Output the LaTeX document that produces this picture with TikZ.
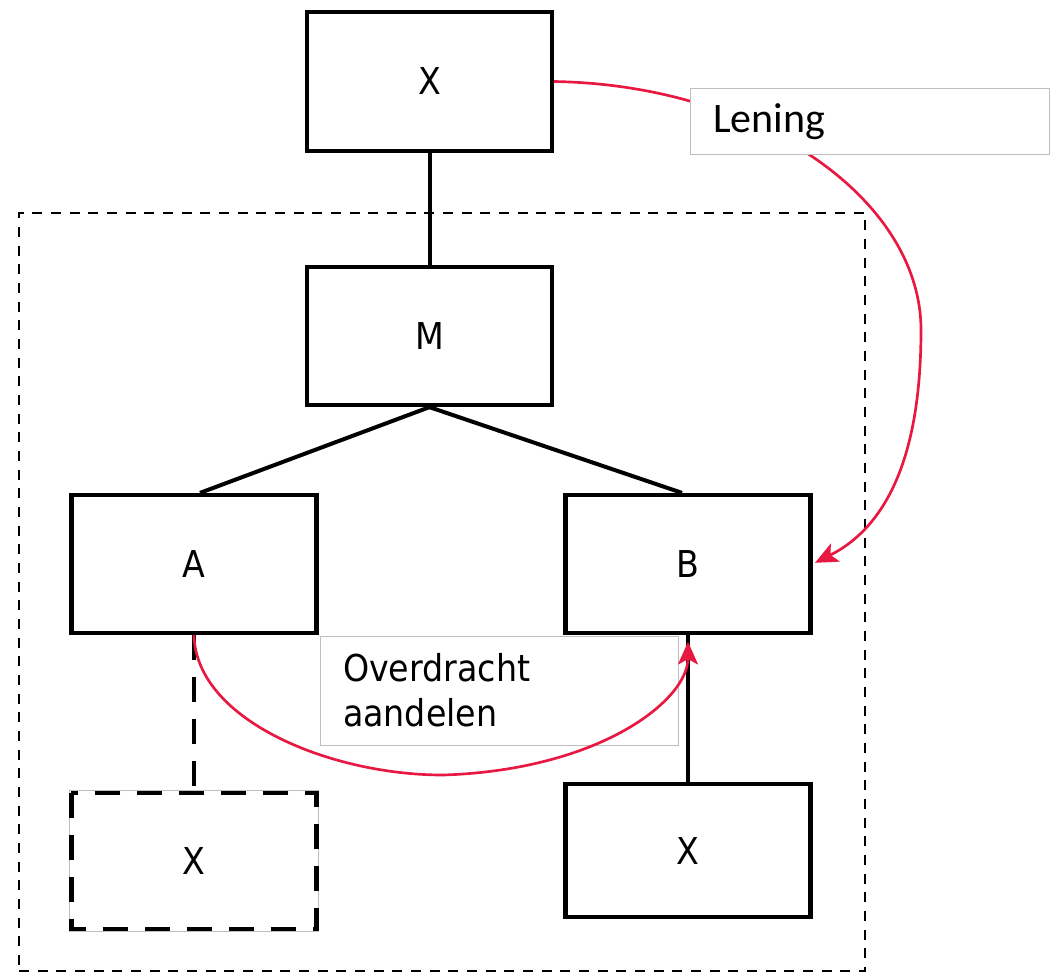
\documentclass[tikz,border=0pt]{standalone}
\usepackage{fontspec}
\setmainfont{DejaVu Sans}[FakeStretch=0.9]
\newfontfamily\labelfont{Carlito}
\usetikzlibrary{arrows.meta}
\definecolor{loanred}{RGB}{232,24,64}
\definecolor{framegray}{RGB}{190,190,190}
\tikzset{
  entity/.style={draw, line width=3.2pt, fill=white, minimum width=183.75pt,
    minimum height=104pt, inner sep=0pt, font=\fontsize{27.75}{33}\selectfont},
  ghost/.style={entity, draw=none},
  ghostdash/.style={draw, line width=3.4pt, dash pattern=on 18.75pt off 12.75pt},
  link/.style={line width=3pt},
  dashlink/.style={line width=3pt, dash pattern=on 18.75pt off 12.75pt},
  group/.style={draw, line width=1.9pt, dash pattern=on 7.5pt off 6.5pt,
    minimum width=634.5pt, minimum height=568.5pt, inner sep=0pt},
  note/.style={draw=framegray, line width=0.75pt, fill=white, align=left,
    inner xsep=17.25pt, inner ysep=0pt},
  flow/.style={draw=loanred, line width=2pt,
    -{Stealth[length=17pt,width=15pt,inset=4pt]}}
}
\begin{document}
\begin{tikzpicture}[x=0.75pt,y=-0.75pt]
\useasboundingbox (0,0) rectangle (1057,976);

% fiscal group
\node[group] (grp) at (442,592) {};

% transfer note (behind the boxes)
\node[note, text width=234pt, minimum height=81.75pt,
  font=\fontsize{27.75}{33.75}\selectfont] (share) at (499,690.5)
  {Overdracht\\aandelen};

% entities
\node[entity] (top) at (429.5,81.5) {X};
\node[entity, minimum height=103.5pt] (m) at (429.5,336) {M};
\node[entity, minimum height=103.5pt] (a) at (194,564) {A};
\node[entity, minimum height=103.5pt] (b) at (688,564) {B};
\node[entity, minimum height=99.75pt] (bx) at (688,850.5) {X};
\node[ghost, minimum height=102pt] (ax) at (194,861) {X};

% ownership lines
\draw[link] (top.south) -- (m.north);
\draw[link] (m.south) -- ([xshift=4.5pt]a.north);
\draw[link] (m.south) -- ([xshift=-4.5pt]b.north);
\draw[link] (bx.north) -- (b.south);
\draw[dashlink] (a.south) -- (ax.north);

% former subsidiary, dashed outline over a thin guide
\draw[framegray, line width=0.75pt] (ax.south west) rectangle (ax.north east);
\draw[ghostdash] ([shift={(1.5pt,-1.5pt)}]ax.north west) rectangle
  ([shift={(-1.5pt,1.5pt)}]ax.south east);

% loan from X to B
\draw[flow, shorten >=2pt] (top.east) .. controls (760,85) and (921,200) .. (921,330)
  .. controls (921,450) and (890,525) .. (b.east);

% share transfer from A to B
\draw[flow, shorten >=5pt] (a.south) .. controls (196,720) and (330,775) .. (443,775)
  .. controls (600,770) and (688,700) .. (b.south);

% loan note (over the curve)
\node[note, text width=235pt, minimum height=50pt,
  font=\labelfont\fontsize{31.5}{36}\selectfont] (loan) at (870,121.5)
  {\raisebox{-2.5pt}{Lening}};
\end{tikzpicture}
\end{document}
